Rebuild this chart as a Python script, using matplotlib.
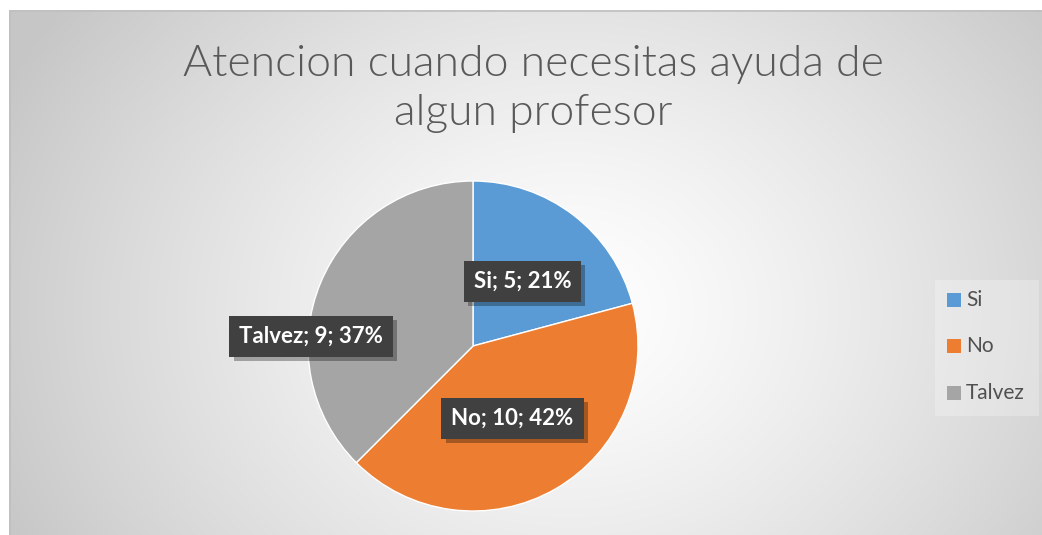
import numpy as np
import matplotlib
matplotlib.use("Agg")
import matplotlib.pyplot as plt
from matplotlib.patches import Rectangle
import matplotlib.patheffects as pe

categories = ["Si", "No", "Talvez"]
values = [5, 10, 9]
percents = ["21%", "42%", "37%"]
colors = ["#5B9BD5", "#ED7D31", "#A5A5A5"]
title = "Atencion cuando necesitas ayuda de\nalgun profesor"

W, H = 1042, 535
fig = plt.figure(figsize=(W / 100, H / 100), dpi=100)
fig.patch.set_facecolor("white")
plt.rcParams['font.family'] = ['Lato', 'DejaVu Sans']

# background with radial gradient
x0, y0 = 9, 10
bg = fig.add_axes([x0 / W, 0, 1 - x0 / W, 1 - y0 / H])
bw, bh = W - x0, H - y0
yy, xx = np.mgrid[0:bh, 0:bw]
cx, cy = 560, 300
d = np.sqrt(((xx - cx) / 620.0) ** 2 + ((yy - cy) / 520.0) ** 2)
d = np.clip(d, 0, 1)
v = 1.0 - 0.22 * d ** 1.3
img = np.dstack([v, v, v])
bg.imshow(img, extent=[0, bw, bh, 0], aspect="auto", interpolation="bilinear")
bg.set_xlim(0, bw)
bg.set_ylim(bh, 0)
bg.axis("off")
bg.add_patch(Rectangle((0.5, 0.5), bw, bh, fill=False, edgecolor="#BFBFBF", lw=1.2))

# title
fig.text(533 / W, 1 - 89 / H, title, ha="center", va="center", fontsize=32,
         color="#595959", linespacing=1.32, fontweight=300,
         family=['Lato', 'DejaVu Sans'])

# pie
pcx, pcy, R = 473, 346, 165
L = 1.0303
S = 2 * R * L
ax = fig.add_axes([(pcx - S / 2) / W, (H - pcy - S / 2) / H, S / W, S / H])
wedges, _ = ax.pie(values, colors=colors, startangle=90, counterclock=False,
                   wedgeprops=dict(edgecolor="white", linewidth=1))
ax.set_xlim(-L, L)
ax.set_ylim(-L, L)
ax.set_aspect("equal")
ax.axis("off")

label_pos = [(0.30, 0.39), (0.24, -0.44), (-0.98, 0.06)]
for cat, val, pct, (lx, ly) in zip(categories, values, percents, label_pos):
    txt = f"{cat}; {val}; {pct}"
    t = ax.text(lx, ly, txt, ha="center", va="center", fontsize=16,
                fontweight="bold", color="white",
                bbox=dict(boxstyle="square,pad=0.45", facecolor="#404040",
                          edgecolor="none"), zorder=5)
    t.get_bbox_patch().set_path_effects([
        pe.SimplePatchShadow(offset=(3, -3), shadow_rgbFace="black", alpha=0.3),
        pe.Normal()])

# legend
leg_ax = fig.add_axes([0, 0, 1, 1], facecolor="none")
leg_ax.set_xlim(0, W)
leg_ax.set_ylim(H, 0)
leg_ax.axis("off")
leg_ax.add_patch(Rectangle((935, 280), 104, 136, facecolor="white", alpha=0.25,
                           edgecolor="none"))
rows_y = [300, 346, 393]
for cat, col, ry in zip(categories, colors, rows_y):
    leg_ax.add_patch(Rectangle((947, ry - 7), 14, 14, facecolor=col, edgecolor="none"))
    leg_ax.text(966, ry, cat, ha="left", va="center", fontsize=15, color="#505050")

fig.savefig("out.png", dpi=100)
